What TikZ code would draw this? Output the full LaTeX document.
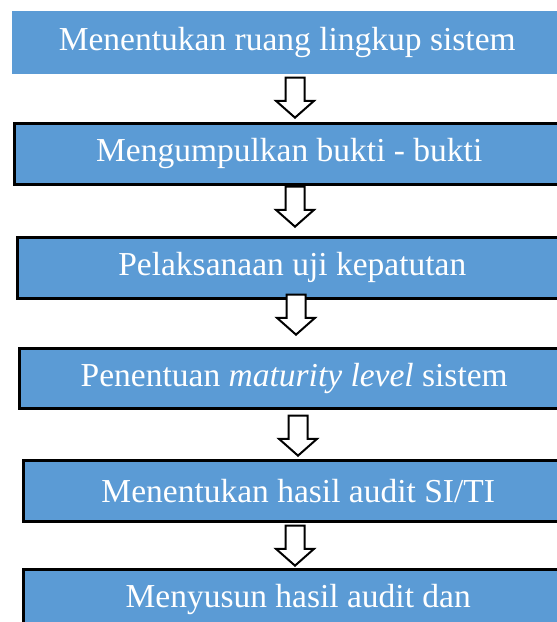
\documentclass[tikz,border=0pt]{standalone}
\usepackage{fontspec}
\setmainfont{Liberation Serif}
\usetikzlibrary{shapes.arrows}
\definecolor{boxblue}{HTML}{5B9BD5}

\begin{document}
\begin{tikzpicture}[x=1pt, y=-1pt,
    stepbox/.style={draw=black, line width=2.5pt, fill=boxblue, text=white,
      minimum width=550pt, minimum height=61pt, inner sep=0pt,
      anchor=north west, font=\fontsize{33.5}{38}\selectfont},
    downarrow/.style={single arrow, shape border rotate=270, draw=black,
      line width=2pt, fill=white, inner sep=8.5pt,
      minimum height=40pt, single arrow head extend=9.5pt,
      single arrow tip angle=97, anchor=tip}]

  \clip (0,0) rectangle (557,622);

  \node[stepbox, draw=none, minimum height=63pt] (b1) at (11,10) {Menentukan ruang lingkup sistem};
  \node[stepbox] (b2) at (13,122) {Mengumpulkan bukti - bukti};
  \node[stepbox] (b3) at (16,236) {Pelaksanaan uji kepatutan};
  \node[stepbox, minimum height=60pt] (b4) at (18,347) {Penentuan \textit{maturity level} sistem};
  \node[stepbox] (b5) at (22,459) {Menentukan hasil audit SI/TI};
  \node[stepbox] (b6) at (22,568) {Menyusun hasil audit dan};

  \node[downarrow] (a1) at (295,119) {}; %% b1->b2
  \node[downarrow] (a2) at (295,228) {}; %% b2->b3
  \node[downarrow] (a3) at (296,336) {}; %% b3->b4
  \node[downarrow] (a4) at (298,457) {}; %% b4->b5
  \node[downarrow] (a5) at (295,567) {}; %% b5->b6
\end{tikzpicture}
\end{document}
